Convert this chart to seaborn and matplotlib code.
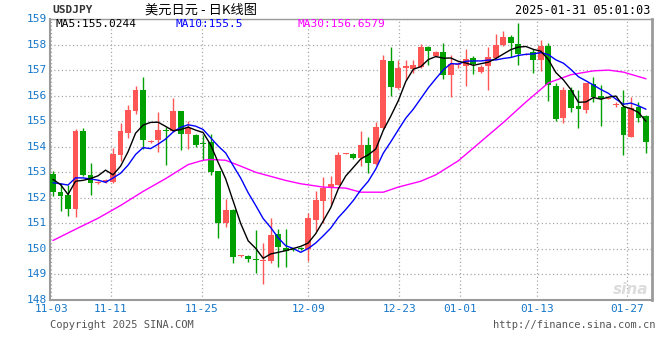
import numpy as np
import pandas as pd
import matplotlib
matplotlib.use("Agg")
import matplotlib.pyplot as plt
import seaborn as sns

# ---------------- data ----------------
opens = [152.94, 152.22, 152.11, 151.57, 154.60, 152.91, 152.59, 152.62, 152.63, 153.67,
         154.55, 155.41, 156.24, 154.17, 154.26, 154.67, 154.60, 155.38, 154.49, 154.44,
         154.16, 154.18, 153.04, 151.03, 151.52, 149.71, 149.73, 149.62, 149.54, 149.54,
         150.58, 150.03, 149.99, 150.04, 149.99, 151.13, 151.87, 152.37, 152.52, 153.71,
         153.73, 153.56, 154.05, 153.33, 154.73, 157.36, 156.29, 157.10, 157.06, 157.13,
         157.91, 157.56, 157.71, 156.81, 157.20, 157.16, 157.49, 156.94, 157.16, 157.48,
         158.00, 158.30, 158.01, 157.60, 157.71, 157.41, 157.95, 156.39, 155.12, 156.22,
         155.60, 155.42, 156.47, 156.00, 155.87, 155.62, 155.57, 154.40, 155.57, 155.21]
highs = [153.04, 152.59, 152.50, 154.69, 154.73, 153.35, 152.64, 152.72, 153.95, 154.91,
         155.64, 156.39, 156.74, 154.28, 155.34, 154.79, 155.90, 155.40, 155.02, 154.50,
         154.47, 154.49, 153.06, 151.94, 151.55, 149.76, 149.76, 150.73, 150.24, 151.22,
         150.78, 150.76, 150.02, 150.08, 151.41, 152.25, 152.82, 152.84, 153.80, 153.76,
         153.75, 154.60, 154.40, 154.98, 157.60, 157.90, 157.40, 157.40, 157.40, 158.04,
         157.95, 157.76, 158.07, 157.60, 157.30, 157.82, 157.55, 157.20, 157.91, 158.43,
         158.52, 158.36, 158.84, 157.66, 157.84, 158.17, 158.08, 156.48, 156.35, 156.32,
         156.22, 156.50, 156.74, 156.40, 155.95, 155.75, 156.22, 155.96, 155.77, 155.25]
lows = [152.07, 151.48, 151.29, 151.26, 152.85, 152.10, 152.56, 152.58, 152.58, 153.43,
        154.34, 155.27, 153.93, 154.15, 153.79, 153.27, 154.58, 153.89, 153.93, 153.98,
        153.50, 152.91, 150.42, 150.86, 149.43, 149.69, 149.50, 149.04, 148.63, 149.43,
        149.30, 149.30, 149.90, 149.94, 149.54, 150.72, 151.03, 151.70, 152.50, 153.70,
        153.53, 153.24, 152.98, 153.30, 154.70, 155.99, 156.25, 156.60, 156.90, 157.10,
        157.20, 157.50, 156.64, 155.96, 157.10, 156.39, 156.85, 156.90, 156.22, 157.45,
        157.95, 157.52, 157.20, 157.58, 156.87, 156.96, 155.80, 155.02, 154.92, 155.35,
        154.73, 155.31, 155.77, 154.82, 155.85, 155.55, 153.69, 154.38, 154.95, 153.75]
closes = [152.24, 152.07, 151.57, 154.63, 152.91, 152.59, 152.61, 152.68, 153.71, 154.60,
          155.42, 156.24, 154.26, 154.24, 154.64, 154.60, 155.38, 154.49, 154.73, 154.05,
          154.12, 153.00, 151.03, 151.52, 149.70, 149.74, 149.60, 149.55, 149.57, 150.55,
          150.06, 149.93, 149.96, 150.00, 151.20, 151.90, 152.40, 152.56, 153.67, 153.74,
          153.56, 154.08, 153.37, 154.79, 157.40, 156.35, 157.09, 157.14, 157.18, 157.91,
          157.74, 157.69, 156.81, 157.22, 157.25, 157.43, 157.22, 157.13, 157.52, 157.98,
          158.30, 158.08, 157.62, 157.64, 157.41, 157.95, 156.42, 155.08, 156.22, 155.51,
          155.47, 156.48, 155.96, 155.88, 155.92, 155.68, 154.44, 155.53, 155.14, 154.18]
# closes of the days before the first candle (only felt through MA5 / MA10)
pre_closes = [152.47, 152.07, 151.83, 152.91, 153.02, 153.07, 153.52, 152.03, 152.74]
# MA30
ma30_idx = [0, 3, 6, 9, 12, 15, 18, 20, 21, 23, 25, 27, 29, 31, 33, 36, 39, 41, 44,
            46, 49, 51, 54, 57, 60, 63, 66, 69, 72, 74, 76, 79]
ma30_val = [150.33, 150.77, 151.20, 151.70, 152.25, 152.75, 153.30, 153.47, 153.50, 153.47,
            153.24, 153.00, 152.84, 152.68, 152.55, 152.42, 152.38, 152.22, 152.22,
            152.42, 152.65, 152.90, 153.45, 154.20, 154.95, 155.75, 156.50, 156.82,
            156.97, 157.00, 156.92, 156.66]
tick_labels = ["11-03", "11-11", "11-25", "12-09", "12-23", "01-01", "01-13", "01-27"]
y_ticks = list(range(148, 160))
legend_texts = ["MA5:155.0244", "MA10:155.5", "MA30:156.6579"]

# ---------------- styling / positions ----------------
tick_pos = [-0.25, 7.69, 19.81, 34.01, 46.14, 54.22, 64.44, 76.51]
UP = "#ff5656"
DOWN = "#00a000"
BLUE_TXT = "#1677c9"

sns.set_theme(style="white")
plt.rcParams['font.family'] = ['DejaVu Sans Mono', 'Noto Sans CJK SC']

n = len(closes)
idx = np.arange(n)
all_c = pd.Series(pre_closes + closes)
ma5 = all_c.rolling(5).mean().to_numpy()[len(pre_closes):]
ma10 = all_c.rolling(10).mean().to_numpy()[len(pre_closes):]

df = pd.DataFrame({"i": idx, "open": opens, "high": highs, "low": lows,
                   "close": closes, "ma5": ma5, "ma10": ma10})
df30 = pd.DataFrame({"i": ma30_idx, "ma30": ma30_val})

fig = plt.figure(figsize=(6.6, 3.6), dpi=100)
ax = fig.add_axes([50 / 660, 60 / 360, 602 / 660, 281 / 360])

# grid
ax.set_yticks(y_ticks)
ax.set_xticks(tick_pos)
ax.set_xticklabels(tick_labels)
ax.grid(True, color="#a8a8a8", linestyle=(0, (1, 2)), linewidth=0.9)
ax.set_axisbelow(True)

# candles
up = df["close"] >= df["open"]
colors = np.where(up, UP, DOWN)
ax.vlines(df["i"], df["low"], df["high"], colors=colors, linewidth=1.0, zorder=2)
body_bottom = np.minimum(df["open"], df["close"])
body_h = np.maximum(np.abs(df["close"] - df["open"]), 0.045)
ax.bar(df["i"], body_h, bottom=body_bottom, width=0.78, color=colors,
       linewidth=0, zorder=3)

# moving averages
sns.lineplot(data=df30, x="i", y="ma30", ax=ax, color="#ff00ff", linewidth=1.0, zorder=4)
sns.lineplot(data=df, x="i", y="ma10", ax=ax, color="#0000ff", linewidth=1.0, zorder=5)
sns.lineplot(data=df, x="i", y="ma5", ax=ax, color="black", linewidth=1.0, zorder=6)

ax.set_xlim(-0.4, 79.8)
ax.set_ylim(148, 159)
ax.set_xlabel("")
ax.set_ylabel("")
ax.tick_params(axis="both", length=0, labelsize=8, labelcolor=BLUE_TXT)
ax.tick_params(axis="y", pad=2)
ax.tick_params(axis="x", pad=3)
for lab in ax.get_yticklabels():
    lab.set_verticalalignment("center")

for side, lw in [("left", 1.5), ("right", 2.0), ("top", 1.0), ("bottom", 1.5)]:
    ax.spines[side].set_visible(True)
    ax.spines[side].set_color("#9a9a9a")
    ax.spines[side].set_linewidth(lw)

# legend line inside plot
fig.text(55 / 660, 1 - 24 / 360, legend_texts[0], color="black", fontsize=8, va="center")
fig.text(175 / 660, 1 - 24 / 360, legend_texts[1], color="#0000ff", fontsize=8, va="center")
fig.text(298 / 660, 1 - 24 / 360, legend_texts[2], color="#ff00ff", fontsize=8, va="center")

# header
fig.text(52 / 660, 1 - 10 / 360, "USDJPY", color="#333333", fontsize=8,
         fontweight="bold", va="center")
fig.text(201 / 660, 1 - 10 / 360, "美元日元 - 日K线图", color="black", fontsize=9.5,
         va="center", ha="center", family=["Noto Sans CJK SC", "DejaVu Sans"])
fig.text(650 / 660, 1 - 11 / 360, "2025-01-31 05:01:03", color="black", fontsize=8.5,
         va="center", ha="right")

# footer
fig.text(50 / 660, 1 - 325 / 360, "Copyright 2025 SINA.COM", color="#555555",
         fontsize=7.5, va="center")
fig.text(656 / 660, 1 - 325 / 360, "http://finance.sina.com.cn", color="#555555",
         fontsize=7.5, va="center", ha="right")
fig.text(648 / 660, 1 - 290 / 360, "sina", color="#dcdcdc", fontsize=11,
         fontweight="bold", style="italic", va="center", ha="right",
         family=["DejaVu Sans"])

fig.savefig("out.png", dpi=100)
